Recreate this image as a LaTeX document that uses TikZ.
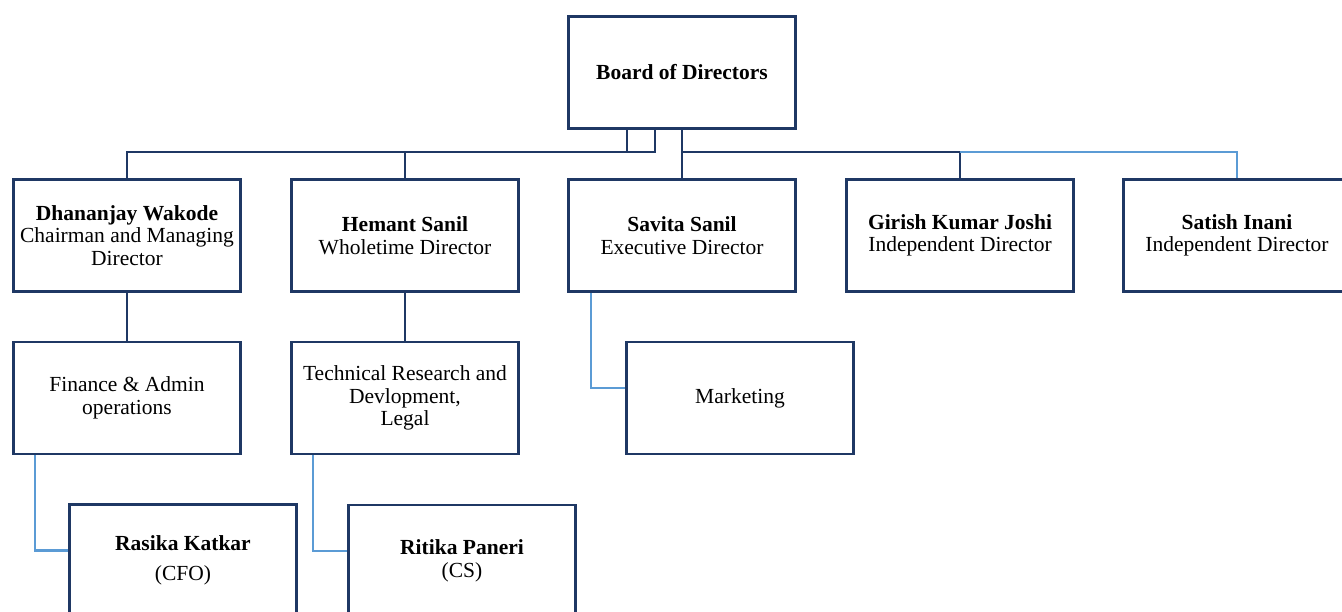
\documentclass[tikz,border=0pt]{standalone}
\usepackage{fontspec}
\setmainfont{Liberation Serif}
\definecolor{navy}{HTML}{1F3864}
\definecolor{lblue}{HTML}{5B9BD5}
\begin{document}
\begin{tikzpicture}[x=1pt,y=-1pt,
  box/.style={draw=navy,line width=2.8pt,minimum width=227pt,minimum height=112pt,align=center,inner sep=0pt,font=\fontsize{21.5}{22.5}\selectfont},
  dk/.style={draw=navy,line width=2.4pt},
  lt/.style={draw=lblue,line width=2.4pt}]
\useasboundingbox (0,0) rectangle (1342,612);
\node[box] (bd) at (682,72.5) {\textbf{Board of Directors}};
\node[box] (dj) at (127,235.5) {\textbf{Dhananjay Wakode}\\Chairman and Managing\\Director};
\node[box] (hs) at (405,235.5) {\textbf{Hemant Sanil}\\Wholetime Director};
\node[box] (sv) at (682,235.5) {\textbf{Savita Sanil}\\Executive Director};
\node[box] (gj) at (960,235.5) {\textbf{Girish Kumar Joshi}\\Independent Director};
\node[box] (si) at (1237,235.5) {\textbf{Satish Inani}\\Independent Director};
\node[box] (fa) at (127,398) {Finance \& Admin\\operations};
\node[box] (tr) at (405,398) {Technical Research and\\Devlopment,\\Legal};
\node[box] (mk) at (740,398) {Marketing};
\node[box] (rk) at (183,560.5) {\textbf{Rasika Katkar}\\[8pt](CFO)};
\node[box] (rp) at (462,561) {\textbf{Ritika Paneri}\\(CS)};
\coordinate (busL) at (627,152);
\coordinate (busM) at (655,152);
\coordinate (busR) at (682,152);
% top connectors
\draw[dk] (bd.south -| busL) -- (busL) -| (dj.north);
\draw[dk] (bd.south -| busM) -- (busM) -- (busL);
\draw[dk] (hs.north) -- (hs.north |- busL);
\draw[dk] (bd.south) -- (sv.north);
\draw[dk] (busR) -| (gj.north);
\draw[lt] (gj.north |- busR) -| (si.north);
% second level
\draw[dk] (dj.south) -- (fa.north);
\draw[dk] (hs.south) -- (tr.north);
\draw[lt] ([xshift=-91pt]sv.south) |- ([yshift=10pt]mk.west);
% third level
\draw[lt] ([xshift=-92pt]fa.south) |- ([yshift=10pt]rk.west);
\draw[lt] ([xshift=-92pt]tr.south) |- ([yshift=10pt]rp.west);
\end{tikzpicture}
\end{document}
